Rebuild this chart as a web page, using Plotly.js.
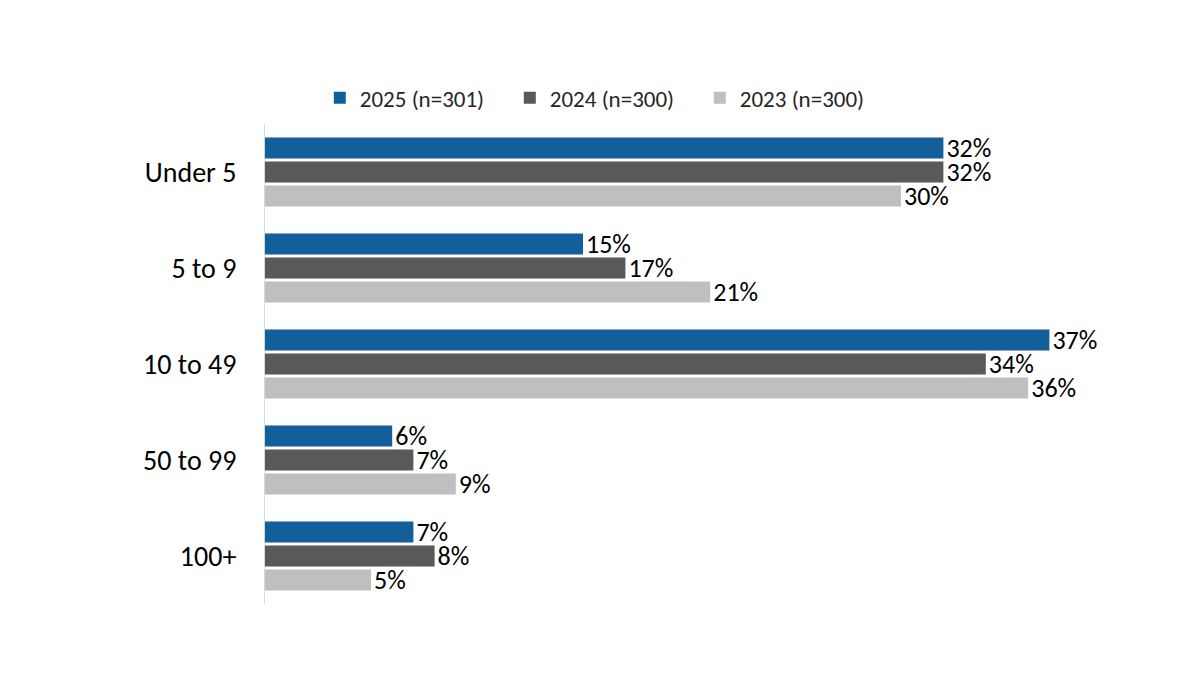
<!DOCTYPE html>
<html>
<head>
<meta charset="utf-8">
<script src="https://cdn.plot.ly/plotly-3.0.1.min.js"></script>
<style>
  html, body { margin: 0; padding: 0; background: #fff; }
  #plot { width: 1200px; height: 675px; }
</style>
</head>
<body>
<div id="plot"></div>
<script>
var categories = ['Under 5', '5 to 9', '10 to 49', '50 to 99', '100+'];
var seriesNames = ['2025 (n=301)', '2024 (n=300)', '2023 (n=300)'];
var values2025 = [32, 15, 37, 6, 7];
var values2024 = [32, 17, 34, 7, 8];
var values2023 = [30, 21, 36, 9, 5];
var colors = ['#135F9A', '#595959', '#BFBFBF'];

function pct(arr) {
  return arr.map(function (v) { return v + '%'; });
}

var allValues = [values2025, values2024, values2023];
var data = allValues.map(function (vals, i) {
  return {
    type: 'bar',
    orientation: 'h',
    name: seriesNames[i],
    y: categories,
    x: vals,
    text: pct(vals),
    textposition: 'outside',
    constraintext: 'none',
    textfont: { size: 26, color: '#000000' },
    cliponaxis: false,
    marker: { color: colors[i] },
    hoverinfo: 'none'
  };
});

var layout = {
  width: 1200,
  height: 675,
  font: { family: 'Carlito, "Open Sans", sans-serif', color: '#000000' },
  paper_bgcolor: '#ffffff',
  plot_bgcolor: '#ffffff',
  margin: { l: 265, r: 87, t: 124, b: 71 },
  barmode: 'group',
  bargap: 0.25,
  bargroupgap: 0.12,
  showlegend: true,
  legend: {
    orientation: 'h',
    xref: 'container',
    yref: 'container',
    x: 0.504,
    xanchor: 'center',
    y: 0.855,
    yanchor: 'middle',
    font: { size: 23, color: '#262626' },
    itemwidth: 30,
    entrywidth: 145,
    entrywidthmode: 'pixels'
  },
  xaxis: {
    range: [0, 40],
    showgrid: false,
    zeroline: false,
    showline: false,
    showticklabels: false,
    ticks: ''
  },
  yaxis: {
    type: 'category',
    autorange: 'reversed',
    showgrid: false,
    zeroline: false,
    showline: true,
    linecolor: '#D9D9D9',
    linewidth: 1,
    ticks: '',
    ticklabelstandoff: 22,
    tickfont: { size: 28, color: '#000000' }
  }
};

Plotly.newPlot('plot', data, layout, { displayModeBar: false, staticPlot: true });
</script>
</body>
</html>
